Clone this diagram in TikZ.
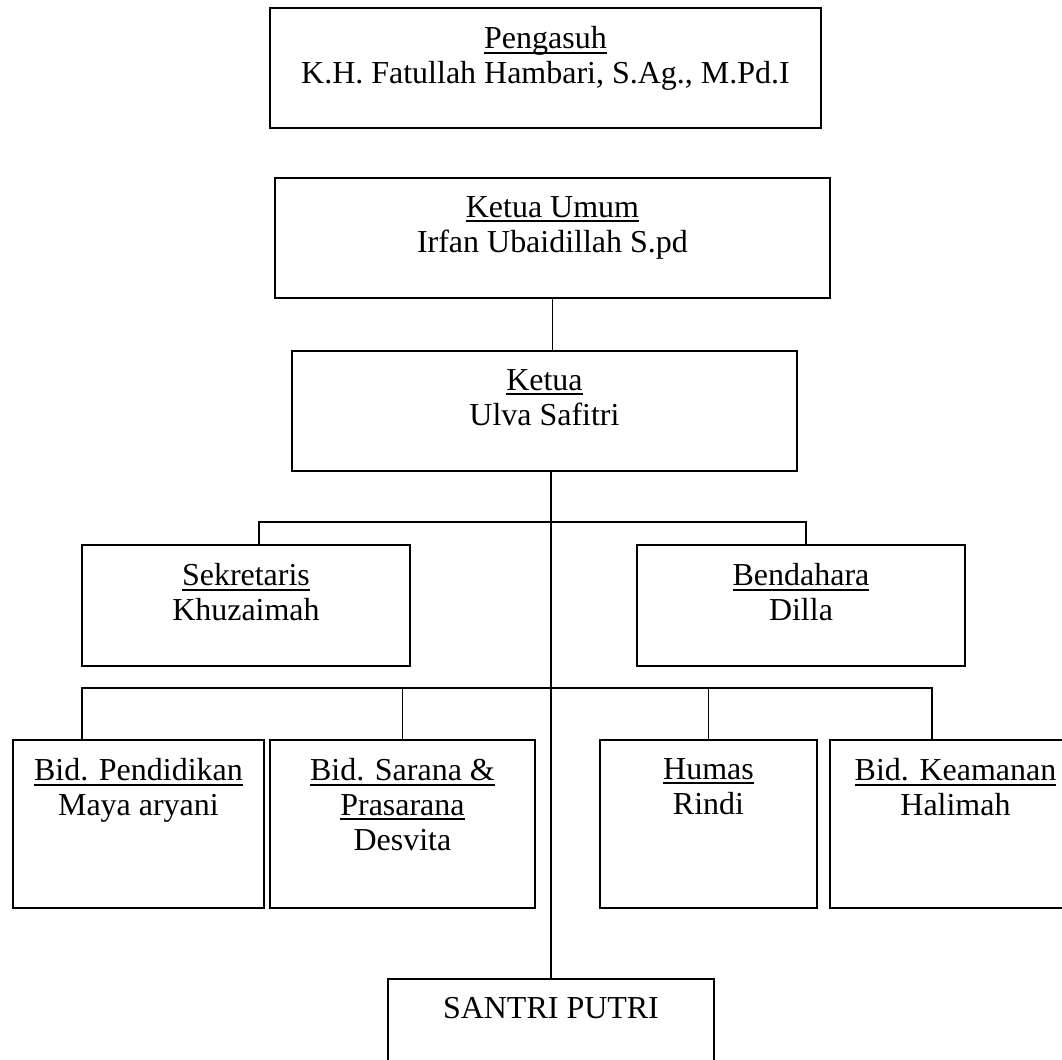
\documentclass[tikz,border=0pt]{standalone}
\usepackage{fontspec}
\setmainfont{Liberation Serif}
\usepackage{tikz}
\usetikzlibrary{positioning}
\newcommand{\undl}[1]{\setbox0\hbox{#1}\rlap{\rule[-0.1cm]{\wd0}{0.04cm}}\box0}

\begin{document}
\begin{tikzpicture}[x=0.02cm, y=-0.02cm,
  font=\fontsize{18.2}{19.9}\selectfont,
  unit/.style={draw, line width=1.1pt, inner sep=0pt, anchor=north west},
  boxtext/.style={anchor=north, align=center, inner sep=0pt, yshift=-0.38cm},
  link/.style={line width=1pt}]

\clip (0,0) rectangle (1062,1060);

\newcommand{\orgbox}[6]{%
  \node[unit, minimum width=#4*0.02cm, minimum height=#5*0.02cm,
        label={[boxtext]north:{#6}}] (#1) at (#2,#3) {};
}

% top of the chart
\orgbox{pengasuh}{269}{7}{551}{120}{\undl{Pengasuh}\\K.H. Fatullah Hambari, S.Ag., M.Pd.I}
\orgbox{ketuaumum}{274}{177}{555}{120}{\undl{Ketua Umum}\\Irfan Ubaidillah S.pd}
\orgbox{ketua}{291}{350}{505}{120}{\undl{Ketua}\\Ulva Safitri}
% second row
\orgbox{sekretaris}{81}{544}{328}{121}{\undl{Sekretaris}\\Khuzaimah}
\orgbox{bendahara}{636}{544}{328}{121}{\undl{Bendahara}\\Dilla}
% fields
\orgbox{pendidikan}{12}{739}{251}{168}{\undl{Bid. Pendidikan}\\Maya aryani}
\orgbox{sarana}{269}{739}{265}{168}{\undl{Bid. Sarana \&}\\\undl{Prasarana}\\Desvita}
\orgbox{humas}{599}{739}{217}{168}{\undl{Humas}\\Rindi}
\orgbox{keamanan}{829}{739}{251}{168}{\undl{Bid. Keamanan}\\Halimah}
\orgbox{santri}{387}{978}{326}{120}{SANTRI PUTRI}

% connectors
\draw[link] (ketuaumum.south) -- (ketuaumum.south |- ketua.north);
\draw[link] (santri.north) -- (santri.north |- ketua.south);

\coordinate (upL) at (259,522);
\coordinate (upR) at (806,522);
\draw[link] (upL |- sekretaris.north) -- (upL) -- (upR) -- (upR |- bendahara.north);

\coordinate (loL) at (82,688);
\coordinate (loR) at (932,688);
\draw[link] (loL |- pendidikan.north) -- (loL) -- (loR) -- (loR |- keamanan.north);
\draw[link] (sarana.north) -- (sarana.north |- loL);
\draw[link] (humas.north) -- (humas.north |- loL);
\end{tikzpicture}
\end{document}
